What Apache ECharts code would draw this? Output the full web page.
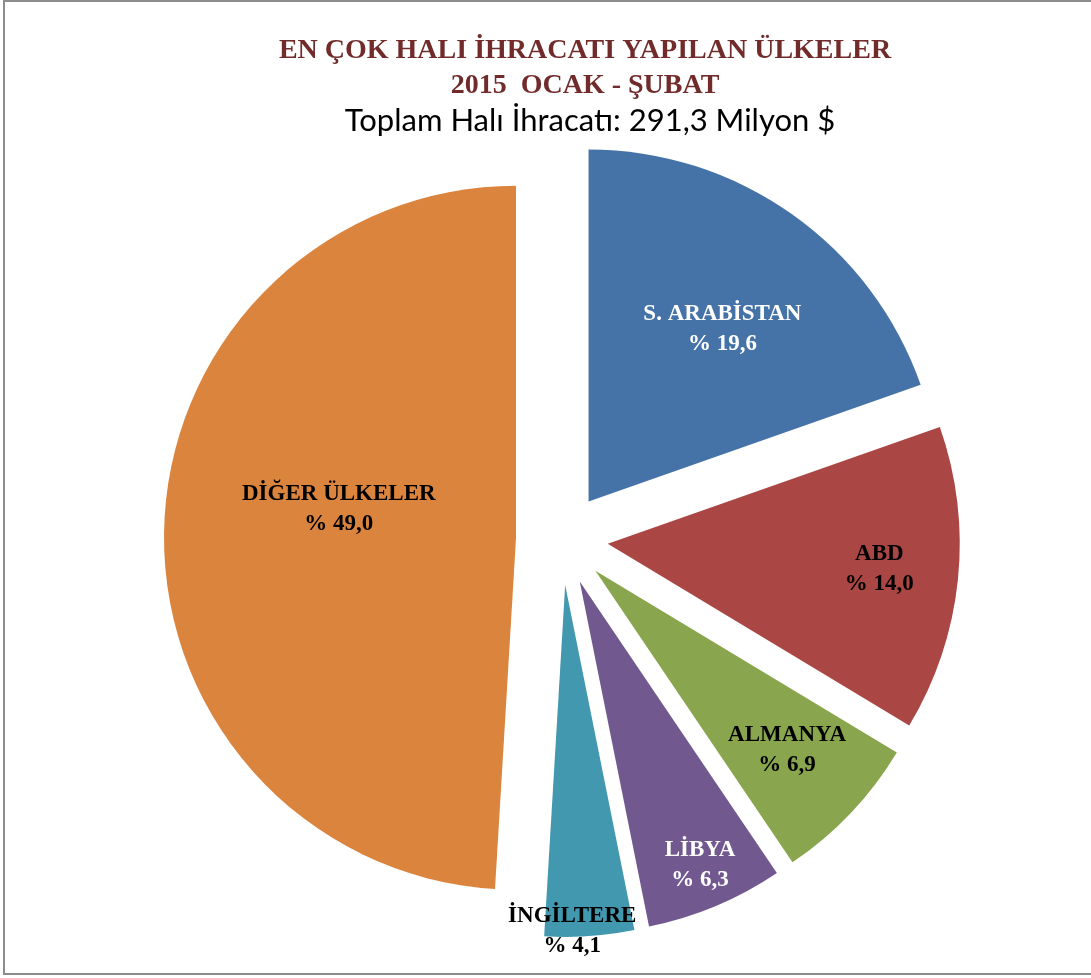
<!DOCTYPE html>
<html>
<head>
<meta charset="utf-8">
<script src="https://cdn.jsdelivr.net/npm/echarts@6/dist/echarts.min.js"></script>
<style>
  html, body { margin: 0; padding: 0; background: #fff; overflow: hidden; }
  #chart { width: 1091px; height: 978px; }
</style>
</head>
<body>
<div id="chart"></div>
<script>
// ülkeler ve payları (%)
var countries = ['S. ARABİSTAN', 'ABD', 'ALMANYA', 'LİBYA', 'İNGİLTERE', 'DİĞER ÜLKELER'];
var shares = [19.6, 14.0, 6.9, 6.3, 4.1, 49.0];
var sliceColors = ['#4572A7', '#AA4643', '#89A54E', '#71588F', '#4198AF', '#DB843D'];
var labelColors = ['#fff', '#000', '#000', '#fff', '#000', '#000'];
// etiketin dilim tepesinden uzaklığı (yarıçapın oranı) ve açı düzeltmesi (derece)
var labelRadius = [0.62, 0.775, 0.745, 0.875, 0.985, 0.51];
var labelTurn = [2.5, -0.5, -0.5, -0.3, 2.8, 7.5];

var cx = 562, cy = 539, R = 352, OFFSET = 46;

var chart = echarts.init(document.getElementById('chart'));

var total = shares.reduce(function (a, b) { return a + b; }, 0);
var mids = [];
var acc = 0;
shares.forEach(function (v) {
    mids.push((acc + v / 2) / total * 2 * Math.PI);
    acc += v;
});

function fmt(v) {
    return v.toFixed(1).replace('.', ',');
}

// dilim etiketleri
var labels = countries.map(function (c, i) {
    var a = mids[i];
    var ox = cx + OFFSET * Math.sin(a);
    var oy = cy - OFFSET * Math.cos(a);
    var b = a + labelTurn[i] * Math.PI / 180;
    var r = labelRadius[i] * R;
    return {
        type: 'text',
        x: ox + r * Math.sin(b),
        y: oy - r * Math.cos(b),
        z: 100,
        silent: true,
        style: {
            text: c + '\n% ' + fmt(shares[i]),
            fill: labelColors[i],
            font: 'bold 23px "Liberation Serif"',
            lineHeight: 30,
            align: 'center',
            verticalAlign: 'middle'
        }
    };
});

var option = {
    backgroundColor: '#fff',
    animation: false,
    title: [
        {
            text: 'EN ÇOK HALI İHRACATI YAPILAN ÜLKELER\n2015  OCAK - ŞUBAT',
            left: 580,
            top: 28,
            textAlign: 'center',
            textStyle: {
                fontFamily: 'Liberation Serif',
                fontWeight: 'bold',
                fontSize: 28,
                lineHeight: 35,
                color: '#722B2B'
            }
        },
        {
            text: 'Toplam Halı İhracatı: 291,3 Milyon $',
            left: 585,
            top: 100,
            textAlign: 'center',
            textStyle: {
                fontFamily: 'Lato',
                fontWeight: 'normal',
                fontSize: 31,
                color: '#000'
            }
        }
    ],
    graphic: [{
        type: 'rect',
        shape: { x: 4, y: 1, width: 1200, height: 973 },
        style: { fill: 'none', stroke: '#8c8c8c', lineWidth: 2 },
        silent: true
    }].concat(labels),
    series: [{
        type: 'pie',
        center: [cx, cy],
        radius: R,
        startAngle: 90,
        clockwise: true,
        selectedMode: 'multiple',
        selectedOffset: OFFSET,
        itemStyle: { borderWidth: 0 },
        label: { show: false },
        labelLine: { show: false },
        emphasis: { disabled: true },
        data: countries.map(function (c, i) {
            return {
                name: c,
                value: shares[i],
                selected: true,
                itemStyle: { color: sliceColors[i] }
            };
        })
    }]
};

chart.setOption(option);
</script>
</body>
</html>
